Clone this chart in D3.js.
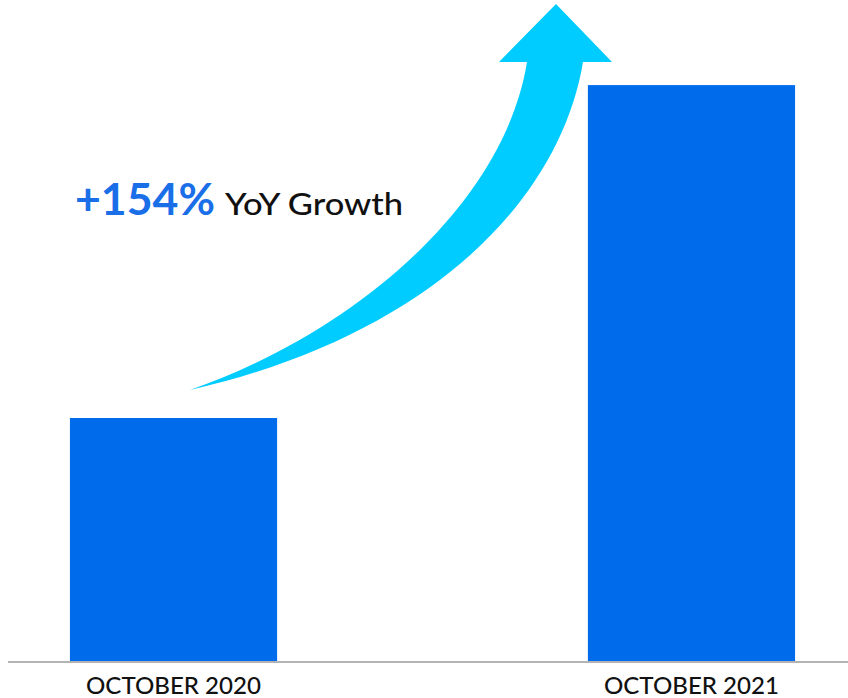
<!DOCTYPE html>
<html>
<head>
<meta charset="utf-8">
<script src="https://cdn.jsdelivr.net/npm/d3@7"></script>
<style>
  html, body { margin: 0; padding: 0; background: #fff; }
  svg { display: block; }
</style>
</head>
<body>
<svg id="chart" width="848" height="698"></svg>
<script>
// Monthly volume, indexed to October 2020 = 100
const categories = ["OCTOBER 2020", "OCTOBER 2021"];
const values = [100, 237];
const growthLabel = "+154%";
const growthText = "YoY Growth";

const svg = d3.select("#chart");
const W = 848, H = 698;
const baseY = 661;

const x = d3.scaleBand()
  .domain(categories)
  .range([0, 865])
  .paddingInner(0.6)
  .paddingOuter(0.135);

const y = d3.scaleLinear()
  .domain([0, 250])
  .range([baseY, baseY - 2.43 * 250]);

// bars
svg.append("g")
  .selectAll("rect")
  .data(values)
  .join("rect")
  .attr("x", (d, i) => x(categories[i]))
  .attr("width", x.bandwidth())
  .attr("y", d => y(d))
  .attr("height", d => y(0) - y(d))
  .attr("fill", "#006ceb");

// baseline
svg.append("line")
  .attr("x1", 8).attr("x2", W)
  .attr("y1", baseY + 1).attr("y2", baseY + 1)
  .attr("stroke", "#b3b3b3")
  .attr("stroke-width", 2);

// category axis
const axis = svg.append("g")
  .attr("transform", `translate(0,${baseY + 2})`)
  .call(d3.axisBottom(x).tickSize(0).tickPadding(0));
axis.select(".domain").remove();
axis.selectAll("text")
  .attr("dy", null)
  .attr("y", 31)
  .attr("font-family", "Lato, 'Noto Sans', sans-serif")
  .attr("font-size", 23.5)
  .attr("font-weight", 500)
  .attr("fill", "#111")
  .attr("textLength", 175)
  .attr("lengthAdjust", "spacingAndGlyphs");

// growth arrow: a tapering curved shaft rising from the first bar toward the second
const tail = [190, 390];
const shaftTopL = [527, 62], shaftTopR = [583, 62];
const headBaseY = 62, headL = 499, headR = 612, tip = [556, 4];

const p = d3.path();
p.moveTo(tail[0], tail[1]);
p.bezierCurveTo(361, 330, 505, 200, shaftTopL[0], shaftTopL[1]);
p.lineTo(headL, headBaseY);
p.lineTo(tip[0], tip[1]);
p.lineTo(headR, headBaseY);
p.lineTo(shaftTopR[0], shaftTopR[1]);
p.bezierCurveTo(560, 200, 430, 335, tail[0], tail[1]);
p.closePath();

svg.append("path")
  .attr("d", p.toString())
  .attr("fill", "#00ccff");

// growth annotation
const note = svg.append("text")
  .attr("y", 215)
  .attr("font-family", "Lato, 'Noto Sans', sans-serif");
note.append("tspan")
  .attr("x", 75)
  .attr("font-size", 44)
  .attr("font-weight", 700)
  .attr("fill", "#1a6fe8")
  .attr("textLength", 140)
  .attr("lengthAdjust", "spacingAndGlyphs")
  .text(growthLabel);
note.append("tspan")
  .attr("x", 225)
  .attr("font-size", 30)
  .attr("font-weight", 500)
  .attr("fill", "#111")
  .attr("textLength", 178)
  .attr("lengthAdjust", "spacingAndGlyphs")
  .text(growthText);
</script>
</body>
</html>
